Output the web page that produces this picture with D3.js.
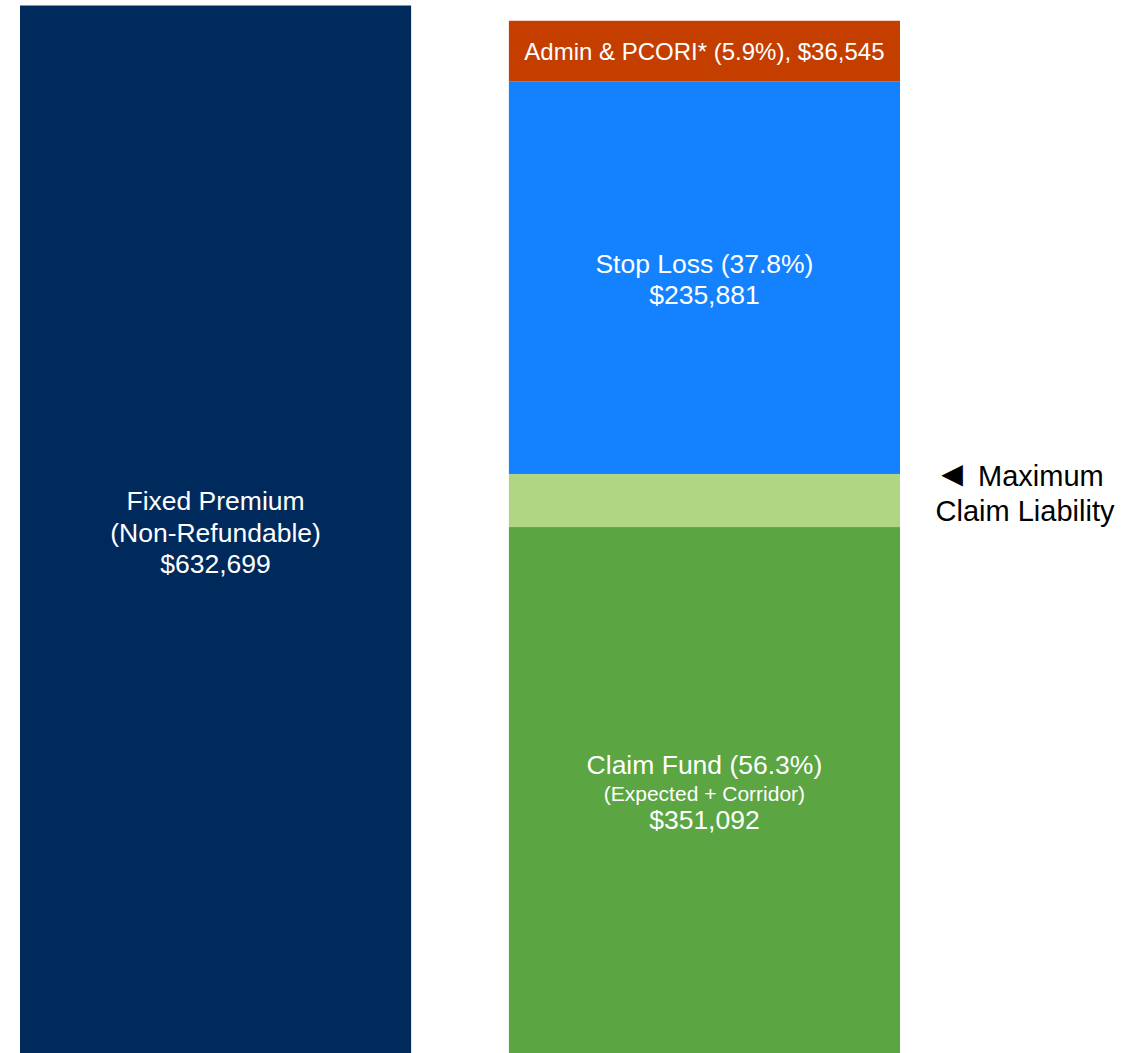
<!DOCTYPE html>
<html>
<head>
<meta charset="utf-8">
<script src="https://cdn.jsdelivr.net/npm/d3@7"></script>
<style>
  html, body { margin: 0; padding: 0; background: #fff; }
  svg { display: block; }
</style>
</head>
<body>
<svg id="chart" width="1127" height="1053"></svg>
<script>
// bars
var barNames = ["Fixed Premium", "Funding Components"];

// stacked segments, bottom to top
var segNames  = ["Expected Claims", "Corridor", "Stop Loss", "Admin & PCORI"];
var segBar    = ["Funding Components", "Funding Components", "Funding Components", "Funding Components"];
var segValues = [319175, 31917, 235881, 36545];
var segColors = ["#5ba543", "#b1d683", "#1482ff", "#c43e00"];

var fixedPremium = 632699;
var fixedColor = "#002a5c";

// label text
var fixedLabel = ["Fixed Premium", "(Non-Refundable)", "$632,699"];
var stopLossLabel = ["Stop Loss (37.8%)", "$235,881"];
var claimLabel = ["Claim Fund (56.3%)", "(Expected + Corridor)", "$351,092"];
var adminLabel = "Admin & PCORI* (5.9%), $36,545";
var liabilityArrow = "\u25C4";
var liabilityLabel = ["Maximum", "Claim Liability"];

var width = 1127, height = 1053;
var svg = d3.select("#chart");
var font = "'Liberation Sans', Arial, sans-serif";

var x = d3.scaleBand().domain(barNames).range([20, 900]).paddingInner(0.2).paddingOuter(0);
// baseline sits a little below the bottom edge of the picture
var y = d3.scaleLinear().domain([0, fixedPremium]).range([1058, 5.5]);

// left bar
svg.append("rect")
    .attr("x", x("Fixed Premium"))
    .attr("y", y(fixedPremium))
    .attr("width", x.bandwidth())
    .attr("height", y(0) - y(fixedPremium))
    .style("fill", fixedColor);

// stacked right bar
var cum = 0;
var segs = [];
for (var i = 0; i < segValues.length; i++) {
    segs.push({ name: segNames[i], bar: segBar[i], y0: cum, y1: cum + segValues[i], color: segColors[i] });
    cum += segValues[i];
}

svg.selectAll("rect.seg")
    .data(segs)
    .enter()
    .append("rect")
    .attr("class", "seg")
    .attr("x", function (d) { return x(d.bar); })
    .attr("y", function (d) { return y(d.y1); })
    .attr("width", x.bandwidth())
    .attr("height", function (d) { return y(d.y0) - y(d.y1); })
    .style("fill", function (d) { return d.color; });

function addLines(cx, lines, cy, fill) {
    // lines: [{text, size, dy}]
    var t = svg.append("text")
        .attr("text-anchor", "middle")
        .style("font-family", font)
        .style("fill", fill);
    lines.forEach(function (l) {
        t.append("tspan")
            .attr("x", cx)
            .attr("y", cy + l.dy)
            .style("font-size", l.size + "px")
            .text(l.text);
    });
}

var cxL = x("Fixed Premium") + x.bandwidth() / 2;
var cxR = x("Funding Components") + x.bandwidth() / 2;

addLines(cxL, [
    { text: fixedLabel[0], size: 26.5, dy: 0 },
    { text: fixedLabel[1], size: 26.5, dy: 32 },
    { text: fixedLabel[2], size: 26.5, dy: 63 }
], 510, "#fff");

addLines(cxR, [
    { text: adminLabel, size: 24, dy: 0 }
], 60, "#fff");

addLines(cxR, [
    { text: stopLossLabel[0], size: 26.5, dy: 0 },
    { text: stopLossLabel[1], size: 26.5, dy: 31 }
], 273, "#fff");

addLines(cxR, [
    { text: claimLabel[0], size: 26.5, dy: 0 },
    { text: claimLabel[1], size: 21, dy: 27 },
    { text: claimLabel[2], size: 26.5, dy: 55 }
], 774, "#fff");

// "◄ Maximum" line, arrow drawn a bit larger
var liab = svg.append("text")
    .attr("x", 1019)
    .attr("y", 486)
    .attr("text-anchor", "middle")
    .style("font-family", font)
    .style("font-size", "29px")
    .style("fill", "#000");
liab.append("tspan").style("font-size", "36px").text(liabilityArrow);
liab.append("tspan").text(" " + liabilityLabel[0]);

addLines(1025, [
    { text: liabilityLabel[1], size: 29, dy: 0 }
], 521, "#000");
</script>
</body>
</html>
